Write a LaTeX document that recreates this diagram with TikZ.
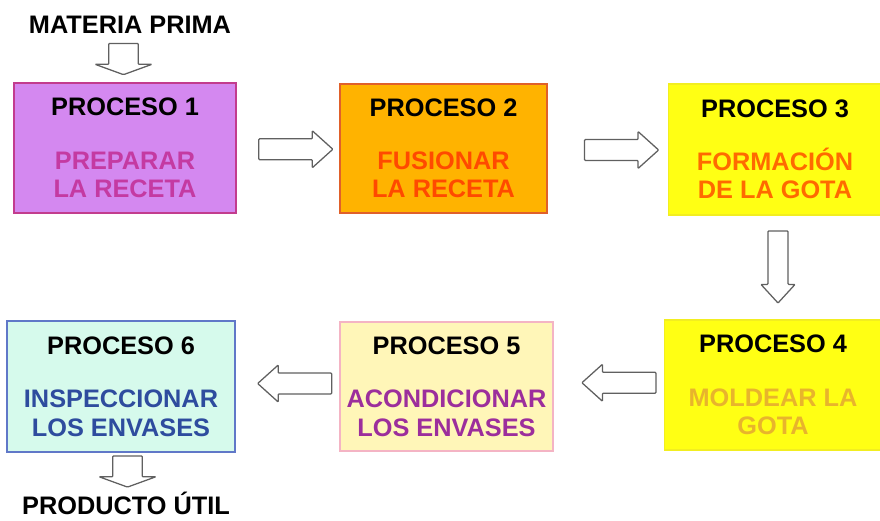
\documentclass[tikz,border=0pt]{standalone}
\usepackage{fontspec}
\setmainfont{Liberation Sans}
\usetikzlibrary{calc,positioning,shapes.arrows}

\definecolor{violeta}{HTML}{D488F0}
\definecolor{violetaborde}{HTML}{C23C8E}
\definecolor{violetatexto}{HTML}{C43AA2}
\definecolor{naranja}{HTML}{FFB300}
\definecolor{naranjaborde}{HTML}{E0602A}
\definecolor{naranjatexto}{HTML}{FF4A00}
\definecolor{amarillo}{HTML}{FFFF14}
\definecolor{amarilloborde}{HTML}{F2EE20}
\definecolor{amarillotexto}{HTML}{FF6A00}
\definecolor{dorado}{HTML}{E8B42C}
\definecolor{crema}{HTML}{FFF6B8}
\definecolor{cremaborde}{HTML}{F4B4C4}
\definecolor{moradotexto}{HTML}{9C2E9C}
\definecolor{menta}{HTML}{D6FAEC}
\definecolor{mentaborde}{HTML}{6078C8}
\definecolor{azultexto}{HTML}{2E4C9E}

\begin{document}
\begin{tikzpicture}[x=0.025cm, y=-0.025cm,
		proc/.style = {draw, line width=1.3pt, align=center, inner sep=0pt,
			font=\fontsize{18}{20}\selectfont\bfseries},
		label/.style = {font=\fontsize{18}{20}\selectfont\bfseries},
		blockarrow/.style = {single arrow, draw=gray!75!black, fill=white, line width=0.9pt,
			rounded corners=0.6pt, inner sep=0pt, minimum width=0pt},
		harrow/.style = {blockarrow, inner ysep=7pt, minimum height=1.85cm,
			single arrow head extend=0.2cm, single arrow tip angle=84},
		varrow/.style = {blockarrow, rotate=-90},
		shortarrow/.style = {varrow, inner ysep=10pt, minimum height=0.78cm,
			single arrow head extend=0.34cm, single arrow tip angle=140}]
		\useasboundingbox (0,0) rectangle (880,520);
		
		% fila de arriba
		\node[proc, fill=violeta, draw=violetaborde, minimum width=5.55cm, minimum height=3.25cm]
			(p1) at (125,148) {PROCESO 1\\[18pt]\textcolor{violetatexto}{PREPARAR}\\\textcolor{violetatexto}{LA RECETA}};
		\node[proc, fill=naranja, draw=naranjaborde, minimum width=5.175cm, minimum height=3.225cm]
			(p2) at (443.5,148.5) {PROCESO 2\\[18pt]\textcolor{naranjatexto}{FUSIONAR}\\\textcolor{naranjatexto}{LA RECETA}};
		\node[proc, fill=amarillo, draw=amarilloborde, minimum width=5.325cm, minimum height=3.275cm]
			(p3) at (775,149.5) {PROCESO 3\\[18pt]\textcolor{amarillotexto}{FORMACIÓN}\\\textcolor{amarillotexto}{DE LA GOTA}};
		
		% fila de abajo
		\node[proc, fill=amarillo, draw=amarilloborde, minimum width=5.425cm, minimum height=3.25cm]
			(p4) at (773,385) {PROCESO 4\\[18pt]\textcolor{dorado}{MOLDEAR LA}\\\textcolor{dorado}{GOTA}};
		\node[proc, fill=crema, draw=cremaborde, minimum width=5.325cm, minimum height=3.225cm]
			(p5) at (446.5,386.5) {PROCESO 5\\[18pt]\textcolor{moradotexto}{ACONDICIONAR}\\\textcolor{moradotexto}{LOS ENVASES}};
		\node[proc, fill=menta, draw=mentaborde, minimum width=5.7cm, minimum height=3.275cm]
			(p6) at (121,386.5) {PROCESO 6\\[18pt]\textcolor{azultexto}{INSPECCIONAR}\\\textcolor{azultexto}{LOS ENVASES}};
		
		% entrada y salida
		\node[label] (mp) at (130,25) {MATERIA PRIMA};
		\node[label] (pu) at (126,503) {PRODUCTO ÚTIL};
		
		% flechas
		\node[shortarrow] (amp) at ($(mp.south)!0.5!(p1.north)+(-4,-4)$) {};
		\node[harrow] (a12) at ($(p1.east)!0.5!(p2.west)+(2,1)$) {};
		\node[harrow] (a23) at ($(p2.east)!0.5!(p3.west)+(8,1)$) {};
		\node[varrow, inner ysep=6.7pt, minimum height=1.8cm, single arrow head extend=0.175cm,
			single arrow tip angle=85] (a34) at ($(p3.south)!0.5!(p4.north)+(4,-6)$) {};
		\node[harrow, rotate=180] (a45) at ($(p5.east)!0.5!(p4.west)+(16,-3)$) {};
		\node[harrow, rotate=180] (a56) at ($(p6.east)!0.5!(p5.west)+(13,-3)$) {};
		\node[shortarrow] (apu) at ($(p6.south)!0.5!(pu.north)+(4,-1)$) {};
\end{tikzpicture}
\end{document}
